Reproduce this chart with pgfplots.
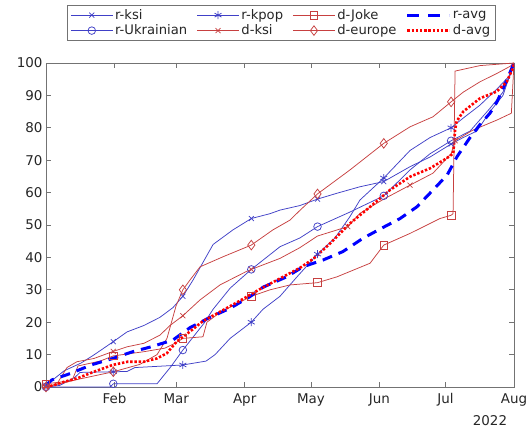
\documentclass[border=0pt]{standalone}
\usepackage{fontspec}
\setmainfont{DejaVu Sans}
\usepackage{pgfplots}
\pgfplotsset{compat=1.18}
\definecolor{lb}{rgb}{0.25,0.25,0.78}
\definecolor{lr}{rgb}{0.78,0.25,0.25}
\definecolor{axc}{rgb}{0.45,0.45,0.45}
\definecolor{txt}{rgb}{0.15,0.15,0.15}
\begin{document}
\begin{tikzpicture}
\begin{axis}[
 at={(0,0)}, anchor=south west,
 scale only axis, width=468bp, height=324bp,
 xmin=0, xmax=212, ymin=0, ymax=100,
 xtick={31,59,90,120,151,181,212},
 xticklabels={Feb,Mar,Apr,May,Jun,Jul,Aug},
 ytick={0,10,...,100},
 tick align=inside,
 major tick length=5bp,
 axis line style={axc, line width=0.8bp},
 tick style={axc, line width=0.8bp},
 ticklabel style={font=\fontsize{13.5}{16}\selectfont, text=txt},
 xticklabel style={yshift=-3bp},
 /pgf/number format/assume math mode=true,
 legend columns=4,
 legend cell align=left,
 legend image code/.code={\draw[mark repeat=2,mark phase=2,#1] plot coordinates {(0bp,0bp) (21bp,0bp) (42bp,0bp)};},
 legend style={at={(0.0449,1.179)}, anchor=north west, draw=axc, line width=0.8bp,
   font=\fontsize{13.2}{15}\selectfont, text=txt,
   /tikz/every even column/.append style={column sep=7.5bp}},
 thin/.style={line width=0.75bp, mark options={solid, line width=0.75bp}},
]
\addlegendimage{lb, thin, mark=x, mark size=3.5bp}\addlegendentry{r-ksi}
\addlegendimage{lb, thin, mark=asterisk, mark size=4bp}\addlegendentry{r-kpop}
\addlegendimage{lr, thin, mark=square, mark size=3.8bp}\addlegendentry{d-Joke}
\addlegendimage{blue, line width=3bp, dash pattern=on 12bp off 9bp}\addlegendentry{r-avg}
\addlegendimage{lb, thin, mark=o, mark size=3.8bp}\addlegendentry{r-Ukrainian}
\addlegendimage{lr, thin, mark=x, mark size=3.5bp}\addlegendentry{d-ksi}
\addlegendimage{lr, thin, mark=diamond, mark size=4.8bp}\addlegendentry{d-europe}
\addlegendimage{red, line width=2.6bp, dash pattern=on 2.4bp off 1.8bp}\addlegendentry{d-avg}

% r-ksi
\addplot[lb, thin, mark=x, mark size=3.5bp, mark indices={1,5,10,14,18,21,24}, forget plot] coordinates {
(0,0.5) (8.2,5) (15.9,7.4) (21.7,9.9) (30.5,14) (36.7,17) (44.4,19) (51.6,21.5) (57.5,24.5)
(62,28) (66.6,33) (75.7,44) (84.7,48.5) (93,52) (101.5,53.5) (106,54.6) (115,56)
(123,58) (131.8,59.8) (142.2,61.8) (153,63.4) (164.9,68) (174,71) (183.5,75)
(189,77) (195.2,79) (201.1,85) (207,90) (212,100)};
% r-Ukrainian
\addplot[lb, thin, mark=o, mark size=3.8bp, mark indices={1,3,6,10,13,15,18}, forget plot] coordinates {
(0,0) (29,0) (30.5,1) (50.3,1) (56.6,6.3) (62,11.4) (71.6,19.7) (75.7,24) (83.4,30.5)
(93,36.3) (106,43.3) (115,46) (123,49.5) (137.7,54) (153,59) (164.9,67) (174,72)
(183.5,76) (192.1,79) (201.1,86) (207,91) (212,100)};
% r-kpop
\addplot[lb, thin, mark=asterisk, mark size=4bp, mark indices={1,5,8,12,16,20,23}, forget plot] coordinates {
(0,0) (6.3,0.5) (13.1,3) (15.4,4.5) (30.5,4.7) (36.7,4.8) (40.3,6) (62,6.8)
(72.5,8) (76.6,10) (83.4,15) (93,20) (98.3,24) (106,28) (113.7,34) (123,41)
(130.9,46) (137.7,52.6) (142.2,57.7) (153,64.5) (164.9,73) (174,77) (183.5,80)
(189,83) (196.6,87) (204.3,92) (210.3,96.3) (212,100)};
% d-ksi
\addplot[lr, thin, mark=x, mark size=3.5bp, mark indices={1,6,11,15,19,22,25}, forget plot] coordinates {
(0,0) (5,1) (9.5,6) (14,7.8) (21.7,8.8) (30.5,11) (36.7,12.4) (44.4,13.5) (51.6,16) (56.2,19)
(62,22) (69.8,26.9) (78.8,31.5) (90.6,35.6) (93,36.3) (106,39.7) (115,43) (123,46.6)
(136.7,49.5) (142.2,53.6) (153,58) (164.9,62.3) (175.3,66) (183.5,72)
(185.3,76) (193.4,79.3) (204.3,82.4) (210.8,84.5) (212,100)};
% d-Joke
\addplot[lr, thin, mark=square, mark size=3.8bp, mark indices={1,6,10,14,17,20,23}, forget plot] coordinates {
(0,1) (6.3,1.5) (11.8,2) (14.5,6.5) (24.5,8) (30.5,9.6) (44.4,10.9) (53.9,12) (58.4,13.5)
(62,15) (71.1,15.5) (72.9,20) (78.8,23) (93,28) (101.5,30) (110.5,31.5) (123,32.2)
(131.8,34) (146.8,38.2) (153,43.8) (164.9,47.4) (178.5,52) (183.5,53) (184.4,53.5)
(185.3,97.5) (196.6,99.2) (212,100)};
% d-europe
\addplot[lr, thin, mark=diamond, mark size=4.8bp, mark indices={1,3,8,12,16,18,21}, forget plot] coordinates {
(0,0) (15.4,2.5) (30.5,4.7) (42.6,7) (50.3,10) (54.8,15) (58.9,25) (62,30) (65.2,33)
(69.8,37.1) (80.2,40.2) (93,43.8) (102.8,48.5) (110.5,51.5) (115,54.5) (123,59.6)
(137.7,67) (153,75.2) (164.9,80.3) (175.3,83.4) (183.5,88) (189,91) (196.6,94.2)
(204.3,96.8) (210.3,99) (212,100)};
% r-avg
\addplot[blue, line width=3bp, dash pattern=on 10bp off 7bp, forget plot] coordinates {
(0,0.6) (2.7,2.2) (11.2,4.2) (20.4,6.8) (30.2,8.8) (39.3,10.9) (47.6,12.4) (57.5,14.5)
(65.2,18.3) (74.3,21.5) (83.4,24.3) (92.4,27.9) (98.3,30.8) (109,34) (116.4,37.1)
(125.5,39.2) (134.5,41.8) (143.6,45.9) (152,49) (160.4,52) (168,55.6) (175.3,60.8)
(181.7,65.4) (186.2,71.1) (192.1,77) (196.6,81) (201.1,84.5) (204.3,88) (208.9,95) (212,100)};
% d-avg
\addplot[red, line width=2.6bp, dash pattern=on 2.4bp off 1.8bp, forget plot] coordinates {
(0,0) (3.6,0.6) (8.2,1.6) (14.2,2.7) (21.7,4.7) (30.2,6.8) (37,7.8) (44.4,7.8) (50.2,8.8)
(54.7,10.4) (59.2,14) (65.2,17.1) (71,20.3) (78.8,23.2) (87,26.3) (96.9,30.2) (106,33.5)
(115.1,36.8) (121,39.5) (128.7,44.3) (137.7,50.5) (146.8,55.6) (155.8,60.8) (164.9,64.9)
(174,67.5) (181.5,70.6) (184.5,72.1) (185.3,79.3) (186,82) (189,85) (196.6,89.1)
(204.2,91.2) (208.7,94.2) (211.6,98.5) (212,100)};
\end{axis}
\node[font=\fontsize{13.5}{16}\selectfont, text=txt] at (444bp,-34bp) {2022};
\pgfresetboundingbox
\path[use as bounding box] (-46bp,-43bp) rectangle (483bp,387bp);
\end{tikzpicture}
\end{document}
